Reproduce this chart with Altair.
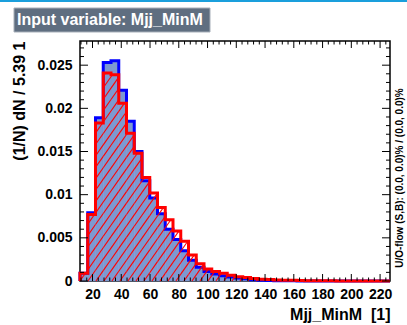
import math
import altair as alt
import pandas as pd

# ---------------- data ----------------
XMIN = 11.3
BINW = 5.39
NBINS = 40
YMAX = 0.0278

signal = [0.0009, 0.0079, 0.0189, 0.0253, 0.0255, 0.0221, 0.0185, 0.0150, 0.0116, 0.0096,
          0.0078, 0.0060, 0.0048, 0.0035, 0.0024, 0.0016, 0.0011, 0.0008, 0.0006, 0.00045,
          0.00035, 0.00025, 0.00015, 0.0001, 0.00007, 0.00004, 0.00003, 0.00002, 0.0, 0.0,
          0.0, 0.0, 0.0, 0.0, 0.0, 0.0, 0.0, 0.0, 0.0, 0.0]
background = [0.0009, 0.0077, 0.0183, 0.0241, 0.0239, 0.0206, 0.0171, 0.0148, 0.0120, 0.0102,
              0.0085, 0.0071, 0.0058, 0.0046, 0.0030, 0.0020, 0.0014, 0.0011, 0.0009, 0.00068,
              0.0005, 0.0004, 0.0003, 0.0002, 0.00017, 0.00012, 0.0001, 0.00008, 0.00005, 0.00004,
              0.00003, 0.00002, 0.00002, 0.00001, 0.00001, 0.0, 0.0, 0.0, 0.0, 0.0]

x_major = [20, 40, 60, 80, 100, 120, 140, 160, 180, 200, 220]
x_minor = [12, 16, 24, 28, 32, 36, 44, 48, 52, 56, 64, 68, 72, 76, 84, 88, 92, 96, 104, 108,
           112, 116, 124, 128, 132, 136, 144, 148, 152, 156, 164, 168, 172, 176, 184, 188, 192,
           196, 204, 208, 212, 216, 224]
y_major = [0, 0.005, 0.01, 0.015, 0.02, 0.025]
y_minor = [0.001, 0.002, 0.003, 0.004, 0.006, 0.007, 0.008, 0.009, 0.011, 0.012, 0.013, 0.014,
           0.016, 0.017, 0.018, 0.019, 0.021, 0.022, 0.023, 0.024, 0.026, 0.027]

title_text = "Input variable: Mjj_MinM"
x_title = "Mjj_MinM\u00a0\u00a0[1]"
y_title = "(1/N) dN / 5.39 1"
flow_text = "U/O-flow (S,B): (0.0, 0.0)% / (0.0, 0.0)%"

# ---------------- derived tables ----------------
XMAX = XMIN + NBINS * BINW
W, H = 310, 240
FONT = "Liberation Sans"

lo = [XMIN + i * BINW for i in range(NBINS)]
hi = [XMIN + (i + 1) * BINW for i in range(NBINS)]
bins_df = pd.DataFrame({"x": lo, "x2": hi, "y": signal, "b": [0.0] * NBINS})


def outline(vals):
    pts = [(XMIN, 0.0)]
    for a, b, v in zip(lo, hi, vals):
        pts.append((a, v))
        pts.append((b, v))
    pts.append((XMAX, 0.0))
    return pd.DataFrame({"x": [p[0] for p in pts], "y": [p[1] for p in pts],
                         "o": list(range(len(pts)))})


sig_df = outline(signal)
bkg_df = outline(background)

# hatch segments clipped to the background histogram
ANGLE = 55.0
HDX = 8.0
ta = math.tan(math.radians(ANGLE))
segs = []
x0 = -H / ta
while x0 < W:
    for a, b, v in zip(lo, hi, background):
        h = v / YMAX * H
        pl = (a - XMIN) / (XMAX - XMIN) * W
        ph = (b - XMIN) / (XMAX - XMIN) * W
        y1 = max(0.0, (pl - x0) * ta)
        y2 = min(h, (ph - x0) * ta)
        if y2 > y1:
            xa = x0 + y1 / ta
            xb = x0 + y2 / ta
            segs.append({"x": XMIN + xa / W * (XMAX - XMIN), "y": y1 / H * YMAX,
                         "x2": XMIN + xb / W * (XMAX - XMIN), "y2": y2 / H * YMAX})
    x0 += HDX
hatch_df = pd.DataFrame(segs)

xs = alt.Scale(domain=[XMIN, XMAX], nice=False, zero=False)
ys = alt.Scale(domain=[0, YMAX], nice=False, zero=False)
AX = alt.Axis(values=x_major, title=x_title, labelPadding=6, labelBaseline="top",
              titleX=W, titleY=33, titleAlign="right", titleBaseline="middle")
AY = alt.Axis(values=y_major, format="~g", title=y_title, labelPadding=8, titleX=-61,
              titleY=0, titleAngle=270, titleAlign="right", titleBaseline="middle")


def X(f):
    return alt.X(f, scale=xs, axis=AX)


def Y(f):
    return alt.Y(f, scale=ys, axis=AY, stack=None)


fill = alt.Chart(bins_df).mark_rect(color="#7d99d1", stroke="#7d99d1", strokeWidth=0.6).encode(
    x=X("x:Q"), x2="x2:Q", y=Y("y:Q"), y2="b:Q")

sig_line = alt.Chart(sig_df).mark_line(color="#0000ff", strokeWidth=3, strokeJoin="miter").encode(
    x=X("x:Q"), y=Y("y:Q"), order="o:Q")

hatch = alt.Chart(hatch_df).mark_rule(color="#ff0000", strokeWidth=1.1).encode(
    x=X("x:Q"), y=Y("y:Q"), x2="x2:Q", y2="y2:Q")

bkg_line = alt.Chart(bkg_df).mark_line(color="#ff0000", strokeWidth=3, strokeJoin="miter").encode(
    x=X("x:Q"), y=Y("y:Q"), order="o:Q")


def xticks(vals, L):
    d = pd.DataFrame({"x": vals})
    bot = alt.Chart(d).mark_rule(color="black", strokeWidth=1).encode(
        x=X("x:Q"), y=alt.value(H), y2=alt.value(H - L))
    top = alt.Chart(d).mark_rule(color="black", strokeWidth=1).encode(
        x=X("x:Q"), y=alt.value(0), y2=alt.value(L))
    return [bot, top]


def yticks(vals, L):
    d = pd.DataFrame({"y": vals})
    left = alt.Chart(d).mark_rule(color="black", strokeWidth=1).encode(
        y=Y("y:Q"), x=alt.value(0), x2=alt.value(L))
    right = alt.Chart(d).mark_rule(color="black", strokeWidth=1).encode(
        y=Y("y:Q"), x=alt.value(W), x2=alt.value(W - L))
    return [left, right]


one = pd.DataFrame({"a": [0]})
top_line = alt.Chart(one).mark_rule(color="#1a9fdc", strokeWidth=2).encode(
    x=alt.value(-80), x2=alt.value(327), y=alt.value(-40))
box = alt.Chart(one).mark_rect(color="#5f6e80", stroke="#a7afb9", strokeWidth=1).encode(
    x=alt.value(-66), x2=alt.value(130), y=alt.value(-33), y2=alt.value(-9))
box_text = alt.Chart(one).mark_text(text=title_text, color="white", font=FONT, fontWeight="bold",
                                    fontSize=16, align="left", baseline="middle").encode(
    x=alt.value(-63), y=alt.value(-21))
flow = alt.Chart(one).mark_text(text=flow_text, color="black", font=FONT, fontWeight="bold",
                                fontSize=10, angle=270, align="center", baseline="middle").encode(
    x=alt.value(320), y=alt.value(137))

layers = [fill, sig_line, hatch, bkg_line] + xticks(x_major, 7) + xticks(x_minor, 3.5) \
    + yticks(y_major, 8) + yticks(y_minor, 4) + [top_line, box, box_text, flow]

chart = alt.layer(*layers).properties(
    width=W, height=H,
    autosize=alt.AutoSizeParams(type="none"),
    padding={"left": 80, "top": 41, "right": 17, "bottom": 44},
    background="white",
).configure_view(stroke="black", strokeWidth=1.5).configure_axis(
    grid=False, domain=False, ticks=False, tickSize=0,
    labelFont=FONT, labelFontWeight="bold", labelFontSize=14, labelColor="black",
    titleFont=FONT, titleFontWeight="bold", titleFontSize=16, titleColor="black",
)

chart.save("out.html", embed_options={"renderer": "svg", "actions": False})
